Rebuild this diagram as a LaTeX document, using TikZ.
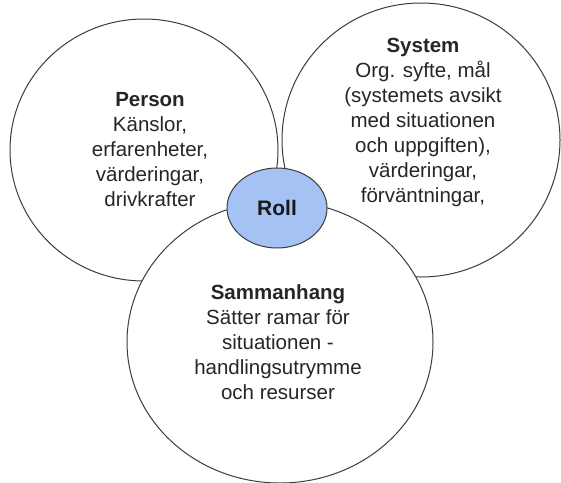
\documentclass[tikz,border=0pt]{standalone}
\usepackage{fontspec}
\setmainfont{Liberation Sans}
\usetikzlibrary{shapes.geometric}
\definecolor{rollblue}{HTML}{A4C2F4}
\definecolor{linegray}{HTML}{3C3C3C}
\tikzset{
  sphere/.style={draw=linegray, fill=white, line width=1pt},
  sphere text/.style={align=center, text=black!85, font=\fontsize{20.5}{25}\selectfont},
}
\begin{document}
\begin{tikzpicture}[x=1pt,y=-1pt]
\useasboundingbox (0,0) rectangle (561,482);
\draw[sphere] (144,150) ellipse [x radius=134pt, y radius=131pt];
\draw[sphere] (421,140) ellipse [x radius=139pt, y radius=137pt];
\draw[sphere] (280,342) ellipse [x radius=153pt, y radius=141pt];
\node[sphere text] (person) at (150,150)
  {\textbf{Person}\\Känslor,\\erfarenheter,\\värderingar,\\drivkrafter};
\node[sphere text] (system) at (423,122)
  {\textbf{System}\\Org. syfte, mål\\(systemets avsikt\\med situationen\\och uppgiften),\\värderingar,\\förväntningar,};
\node[sphere text] (sammanhang) at (278,342)
  {\textbf{Sammanhang}\\Sätter ramar för\\situationen -\\handlingsutrymme\\och resurser};
\node[ellipse, draw=linegray, fill=rollblue, line width=1pt, minimum width=100pt,
      minimum height=80pt, inner sep=0pt, text=black!90,
      font=\bfseries\fontsize{21}{25}\selectfont] (roll) at (277,208) {Roll};
\end{tikzpicture}
\end{document}
